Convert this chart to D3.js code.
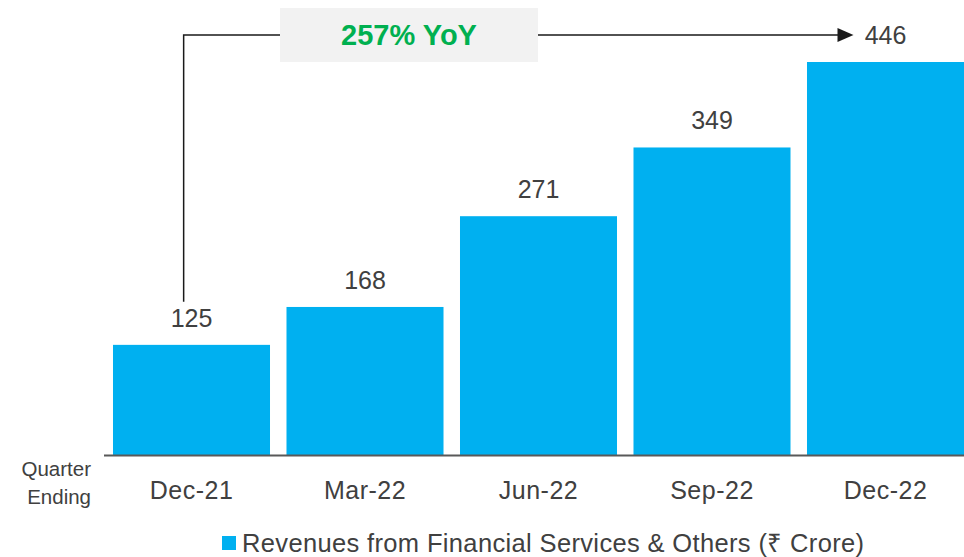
<!DOCTYPE html>
<html><head><meta charset="utf-8">
<script src="https://cdn.jsdelivr.net/npm/d3@7"></script>
<style>
html,body{margin:0;padding:0;background:#fff;}
text{font-family:"Liberation Sans",Arial,Helvetica,sans-serif;}
</style></head>
<body>
<svg id="chart" width="964" height="557"></svg>
<script>
const categories = ["Dec-21","Mar-22","Jun-22","Sep-22","Dec-22"];
const values = [125,168,271,349,446];
const seriesName = "Revenues from Financial Services & Others (\u20B9 Crore)";
const annotationText = "257% YoY";
const axisTitle = ["Quarter","Ending"];

const svg = d3.select("#chart");
const W = 964, H = 557;
const baseline = 455;
const barColor = "#00b0f0";
const textColor = "#404040";

const x = d3.scaleBand().domain(categories).range([104.75, 972.25])
  .paddingInner(0.095).paddingOuter(0.0475);
const y = d3.scaleLinear().domain([0, 446]).range([baseline, 62]);

// bars
svg.append("g").selectAll("rect").data(values).join("rect")
  .attr("x",(d,i)=>x(categories[i]))
  .attr("y",d=>y(d))
  .attr("width",x.bandwidth())
  .attr("height",d=>baseline-y(d))
  .attr("fill",barColor);

// axis
const axis = d3.axisBottom(x).tickSize(0).tickPadding(0);
const gAx = svg.append("g").attr("transform",`translate(0,${baseline})`).call(axis);
gAx.select(".domain").remove();
gAx.append("line").attr("x1",104).attr("x2",W).attr("y1",0.5).attr("y2",0.5)
  .attr("stroke","#595959").attr("stroke-width",2);
gAx.selectAll(".tick text").attr("font-size",25).attr("fill",textColor)
  .attr("dy",0).attr("y",44).style("letter-spacing","0.5px")
  .style("font-family","Liberation Sans, Arial, sans-serif");

// axis title
svg.append("text").attr("x",91).attr("y",476).attr("text-anchor","end")
  .attr("font-size",20.5).attr("fill",textColor).text(axisTitle[0]);
svg.append("text").attr("x",91).attr("y",504).attr("text-anchor","end")
  .attr("font-size",20.5).attr("fill",textColor).text(axisTitle[1]);

// value labels
svg.append("g").selectAll("text").data(values).join("text")
  .attr("x",(d,i)=>x(categories[i])+x.bandwidth()/2)
  .attr("y",d=>y(d)-27)
  .attr("dy","0.36em")
  .attr("text-anchor","middle")
  .attr("font-size",25).attr("fill",textColor)
  .text(d=>d);

// annotation
const ay = y(values[values.length-1]) - 27;
const lx = x(categories[0]) + x.bandwidth()*0.45;
const ex = x(categories[categories.length-1]) + x.bandwidth()/2 - 32;
svg.append("path")
  .attr("d",`M${lx},${y(values[0])-43} L${lx},${ay} L${ex-8},${ay}`)
  .attr("fill","none").attr("stroke","#1a1a1a").attr("stroke-width",1.5);
svg.append("path").attr("d",`M${ex-16},${ay-7} L${ex},${ay} L${ex-16},${ay+7} Z`).attr("fill","#1a1a1a");

svg.append("rect").attr("x",280).attr("y",8).attr("width",258).attr("height",54).attr("fill","#f2f2f2");
svg.append("text").attr("x",409).attr("y",35).attr("dy","0.36em").attr("text-anchor","middle")
  .attr("font-size",29).attr("font-weight","bold").attr("fill","#00b050").text(annotationText);

// legend
const lg = svg.append("g");
lg.append("rect").attr("x",222).attr("y",536).attr("width",14).attr("height",14).attr("fill",barColor);
lg.append("text").attr("x",242).attr("y",543).attr("dy","0.35em").attr("font-size",25.5)
  .style("letter-spacing","0.35px")
  .attr("fill",textColor).text(seriesName);
</script>
</body></html>
